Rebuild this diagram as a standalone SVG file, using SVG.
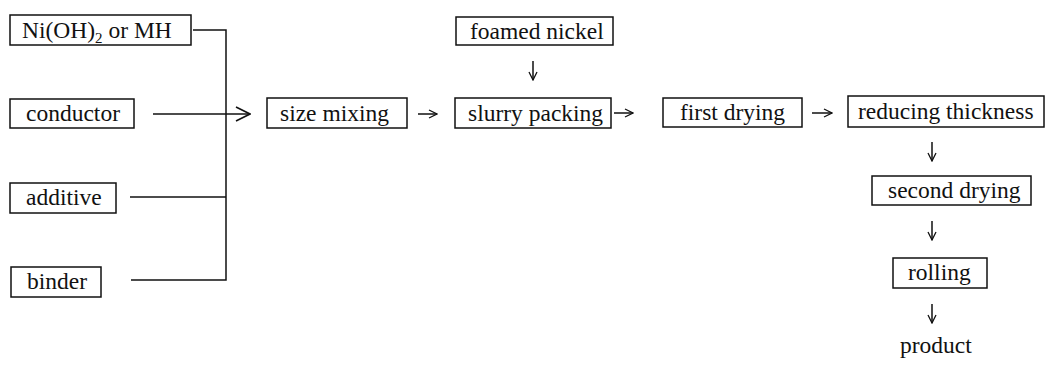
<svg xmlns="http://www.w3.org/2000/svg" width="1051" height="371" viewBox="0 0 1051 371">
<style>
.box{fill:#fff;stroke:#111;stroke-width:1.5}
.t{font-size:23.5px;fill:#111}
.c{fill:none;stroke:#111;stroke-width:1.5}
</style>
<defs>
<marker id="ah" viewBox="0 0 10 10" refX="9" refY="5" markerWidth="10" markerHeight="10" markerUnits="userSpaceOnUse" orient="auto">
<path d="M1,1 L9,5 L1,9" fill="none" stroke="#111" stroke-width="1.3"/>
</marker>
<marker id="ahb" viewBox="0 0 16 16" refX="15" refY="8" markerWidth="16" markerHeight="16" markerUnits="userSpaceOnUse" orient="auto">
<path d="M1,1 L15,8 L1,15" fill="none" stroke="#111" stroke-width="1.6"/>
</marker>
</defs>
<rect width="1051" height="371" fill="#fff"/>
<g font-family="'Liberation Serif', 'DejaVu Serif', 'Times New Roman', serif">
<g id="n-nioh"><rect class="box" x="10" y="15" width="181" height="30"/><text class="t" x="22" y="38">Ni(OH)<tspan font-size="15" dy="5">2</tspan><tspan dy="-5"> or MH</tspan></text></g>
<g id="n-conductor"><rect class="box" x="10" y="99" width="124" height="29"/><text class="t" x="26" y="121">conductor</text></g>
<g id="n-additive"><rect class="box" x="10" y="183" width="106" height="30"/><text class="t" x="26" y="205">additive</text></g>
<g id="n-binder"><rect class="box" x="11" y="267" width="90" height="30"/><text class="t" x="27" y="289">binder</text></g>
<g id="n-size"><rect class="box" x="267" y="98" width="140" height="30"/><text class="t" x="280" y="121">size mixing</text></g>
<g id="n-foam"><rect class="box" x="456" y="17" width="157" height="28"/><text class="t" x="470" y="39">foamed nickel</text></g>
<g id="n-slurry"><rect class="box" x="455" y="98" width="156" height="30"/><text class="t" x="468" y="121">slurry packing</text></g>
<g id="n-first"><rect class="box" x="663" y="98" width="139" height="29"/><text class="t" x="680" y="120">first drying</text></g>
<g id="n-reduce"><rect class="box" x="848" y="96" width="196" height="31"/><text class="t" x="858" y="119">reducing thickness</text></g>
<g id="n-second"><rect class="box" x="872" y="176" width="159" height="29"/><text class="t" x="888" y="198">second drying</text></g>
<g id="n-rolling"><rect class="box" x="893" y="258" width="94" height="30"/><text class="t" x="908" y="280">rolling</text></g>
<g id="n-product"><text class="t" x="900" y="353">product</text></g>
</g>
<g id="connectors">
<path class="c" d="M193,30 H226 V280 H131"/>
<path class="c" d="M130,197 H226"/>
<path class="c" d="M153,114 H250" marker-end="url(#ahb)"/>
<path class="c" d="M418,114 H437" marker-end="url(#ah)"/>
<path class="c" d="M614,113 H633" marker-end="url(#ah)"/>
<path class="c" d="M812,113 H832" marker-end="url(#ah)"/>
<path class="c" d="M533,61 V80" marker-end="url(#ah)"/>
<path class="c" d="M932,142 V161" marker-end="url(#ah)"/>
<path class="c" d="M932,221 V240" marker-end="url(#ah)"/>
<path class="c" d="M932,304 V323" marker-end="url(#ah)"/>
</g>
</svg>
